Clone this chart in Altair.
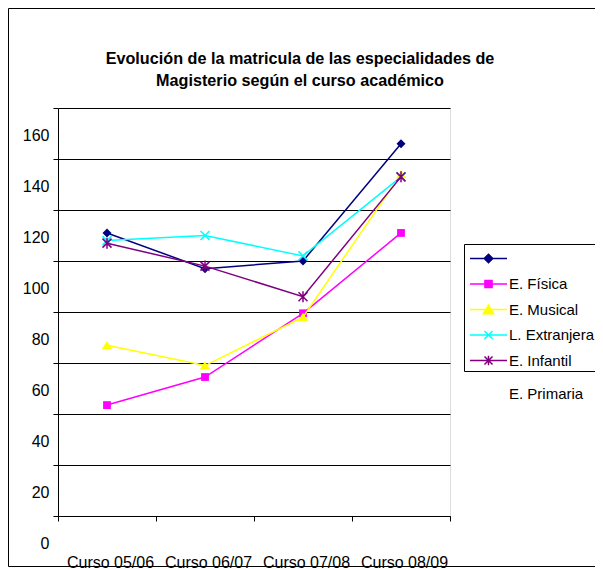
import altair as alt
import pandas as pd

cursos = ["Curso 05/06", "Curso 06/07", "Curso 07/08", "Curso 08/09"]
series = ["E. Primaria", "E. Física", "E. Musical", "L. Extranjera", "E. Infantil"]
primaria = [111, 97, 100, 146]
fisica = [43.5, 54.5, 79.5, 111]
musical = [67, 59, 78, 134]
extranjera = [108, 110, 102, 133]
infantil = [107, 98, 86, 133]
colores = ["#000080", "#FF00FF", "#FFFF00", "#00FFFF", "#800080"]
y_ticks = [0, 20, 40, 60, 80, 100, 120, 140, 160]
titulo = ["Evolución de la matricula de las especialidades de",
          "Magisterio según el curso académico"]

valores = [primaria, fisica, musical, extranjera, infantil]
rows = []
for s, vals in zip(series, valores):
    for c, v in zip(cursos, vals):
        rows.append({"curso": c, "serie": s, "valor": v})
df = pd.DataFrame(rows)

FONT = "Liberation Sans"
W, H = 392, 408

# marker shapes for plot (size 100 -> radius 5)
plot_shapes = [
    "M0,-0.9L0.9,0L0,0.9L-0.9,0Z",
    "M-0.78,-0.78L0.78,-0.78L0.78,0.78L-0.78,0.78Z",
    "M0,-0.85L1.05,0.8L-1.05,0.8Z",
    "M-0.9,-0.9L0.9,0.9M-0.9,0.9L0.9,-0.9",
    "M-0.9,-0.9L0.9,0.9M-0.9,0.9L0.9,-0.9M0,-1.1L0,1.1",
]
filled = [True, True, True, False, False]

# legend symbols: line + marker (size 529 -> radius 11.5)
LN = "M-1.61,0L1.61,0"
legend_shapes = [
    LN + "M0,-0.37L0.37,0L0,0.37L-0.37,0Z",
    LN + "M-0.31,-0.31L0.31,-0.31L0.31,0.31L-0.31,0.31Z",
    LN + "M0,-0.38L0.45,0.36L-0.45,0.36Z",
    LN + "M-0.35,-0.35L0.35,0.35M-0.35,0.35L0.35,-0.35",
    LN + "M-0.35,-0.35L0.35,0.35M-0.35,0.35L0.35,-0.35M0,-0.42L0,0.42",
]

x_enc = alt.X(
    "curso:N",
    sort=cursos,
    scale=alt.Scale(type="band", domain=cursos, paddingInner=0, paddingOuter=0),
    axis=alt.Axis(title=None, tickBand="extent", labelAngle=0, tickSize=5,
                  labelPadding=33, labelOffset=3, labelFont=FONT, labelFontSize=16,
                  labelColor="black", domainColor="black", tickColor="black",
                  grid=False, labelBaseline="top"),
)
y_enc = alt.Y(
    "valor:Q",
    scale=alt.Scale(domain=[0, 160], nice=False, zero=False),
    axis=alt.Axis(title=None, values=y_ticks, grid=True, gridColor="black",
                  gridWidth=1, tickSize=5, tickColor="black", domainColor="black",
                  labelPadding=4, labelOffset=27, labelFont=FONT, labelFontSize=16,
                  labelColor="black"),
)

base = alt.Chart(df)
layers = []
for s, c, shp, f in zip(series, colores, plot_shapes, filled):
    sub = base.transform_filter(alt.datum.serie == s)
    layers.append(sub.mark_line(color=c, strokeWidth=1.5).encode(x=x_enc, y=y_enc))
    if f:
        pt = sub.mark_point(shape=shp, filled=True, color=c, size=100, opacity=1)
    else:
        pt = sub.mark_point(shape=shp, filled=False, color=c, size=100, opacity=1,
                            strokeWidth=1.5)
    layers.append(pt.encode(x=x_enc, y=y_enc))

leg = alt.Legend(
    title=None, orient="none", legendX=406, legendY=136,
    strokeColor="black", fillColor="white", padding=2, cornerRadius=0,
    symbolSize=529, symbolStrokeWidth=1.5, symbolOffset=10, labelOffset=8,
    labelFont=FONT, labelFontSize=15, labelColor="black", rowPadding=4.5,
    labelExpr="datum.label == 'E. Primaria' ? '' : datum.label",
)
legend_layer = base.transform_filter("false").mark_point(opacity=1).encode(
    fill=alt.Fill("serie:N", scale=alt.Scale(domain=series, range=colores), legend=leg),
    stroke=alt.Stroke("serie:N", scale=alt.Scale(domain=series, range=colores), legend=leg),
    shape=alt.Shape("serie:N", scale=alt.Scale(domain=series, range=legend_shapes), legend=leg),
)

one = pd.DataFrame({"k": [0]})
extra = alt.Chart(one).mark_text(text="E. Primaria", font=FONT, fontSize=15,
                                 color="black", align="left", baseline="middle").encode(
    x=alt.value(451), y=alt.value(286))
title_mark = alt.Chart(one).mark_text(text=titulo, font=FONT, fontSize=16.2,
                                      fontWeight="bold", color="black", align="center",
                                      baseline="middle", lineHeight=22).encode(
    x=alt.value(242), y=alt.value(-49))
frame = alt.Chart(one).mark_rect(fillOpacity=0, stroke="black", strokeWidth=1).encode(
    x=alt.value(-49.5), x2=alt.value(600), y=alt.value(-99.5), y2=alt.value(458.5))

chart = alt.layer(*layers, legend_layer, extra, title_mark, frame).properties(
    width=W, height=H,
    autosize=alt.AutoSizeParams(type="none"),
    padding={"left": 50, "top": 100, "right": 145, "bottom": 53},
).configure_view(fill="#C0C0C0", stroke="#808080").configure(background="white")

chart.save("out.html", embed_options={"renderer": "svg", "actions": False})
